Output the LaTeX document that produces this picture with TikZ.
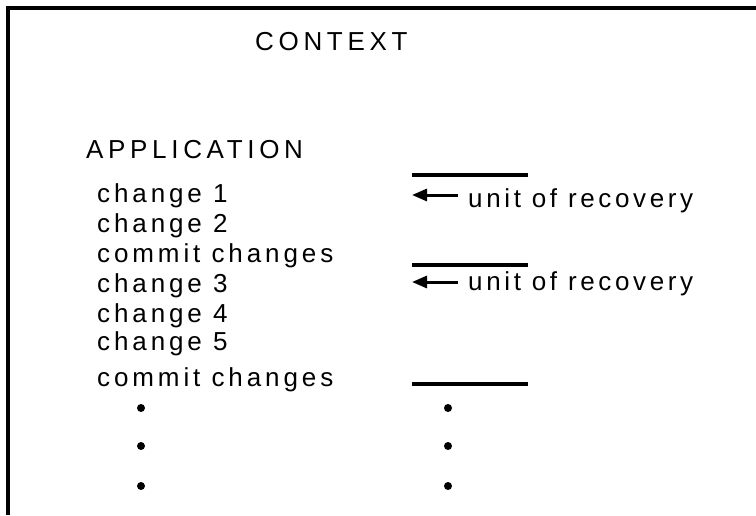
\documentclass[tikz,border=0pt]{standalone}
\usepackage{fontspec}
\setmainfont{Liberation Sans}
\newfontfamily\lsA[LetterSpace=15]{Liberation Sans}
\newfontfamily\lsC[LetterSpace=18]{Liberation Sans}
\newfontfamily\lsB[LetterSpace=14]{Liberation Sans}
\usetikzlibrary{arrows.meta}
\begin{document}
\begin{tikzpicture}[x=1pt,y=-1pt,
  txt/.style={anchor=base west, inner sep=0pt, font=\lsA\fontsize{26}{30}\selectfont},
  captxt/.style={anchor=base west, inner sep=0pt, font=\lsC\fontsize{26}{30}\selectfont},
  unit/.style={anchor=base west, inner sep=0pt, font=\lsB\fontsize{26}{30}\selectfont},
  rulel/.style={line width=3.2pt},
  arr/.style={line width=3pt, -{Triangle[length=15pt,width=12pt]}},
  dotm/.style={circle, fill=black, inner sep=0pt, minimum size=8pt}]
\useasboundingbox (0,0) rectangle (756,515);
\fill[white] (0,0) rectangle (756,515);
\draw[line width=3.5pt] (8,515) -- (8,8) -- (756,8);
\node[captxt] (ctx) at (255,50) {CONTEXT};
\node[captxt] (app) at (86,158) {APPLICATION};
\node[txt] (c1) at (97,202) {change 1};
\node[txt] (c2) at (97,232) {change 2};
\node[txt] (cm1) at (97,262) {commit changes};
\node[txt] (c3) at (97,292) {change 3};
\node[txt] (c4) at (97,322) {change 4};
\node[txt] (c5) at (97,350) {change 5};
\node[txt] (cm2) at (97,386) {commit changes};
\node[unit] (u1) at (468,207) {unit of recovery};
\node[unit] (u2) at (468,290) {unit of recovery};
\coordinate (r1a) at (412,175); \coordinate (r1b) at (528,175);
\coordinate (r2a) at (412,265); \coordinate (r2b) at (528,265);
\coordinate (r3a) at (412,384); \coordinate (r3b) at (528,384);
\draw[rulel] (r1a) -- (r1b);
\draw[rulel] (r2a) -- (r2b);
\draw[rulel] (r3a) -- (r3b);
\coordinate (a1) at (412,195);
\coordinate (a2) at (412,282);
\draw[arr] ([shift={(-10,-12)}]u1.base west) -- (a1);
\draw[arr] ([shift={(-10,-8)}]u2.base west) -- (a2);
\foreach \y [count=\i] in {408,446,486} {
  \node[dotm] (dl\i) at (141,\y) {};
  \node[dotm] (dr\i) at (448,\y) {};
}
\end{tikzpicture}
\end{document}
